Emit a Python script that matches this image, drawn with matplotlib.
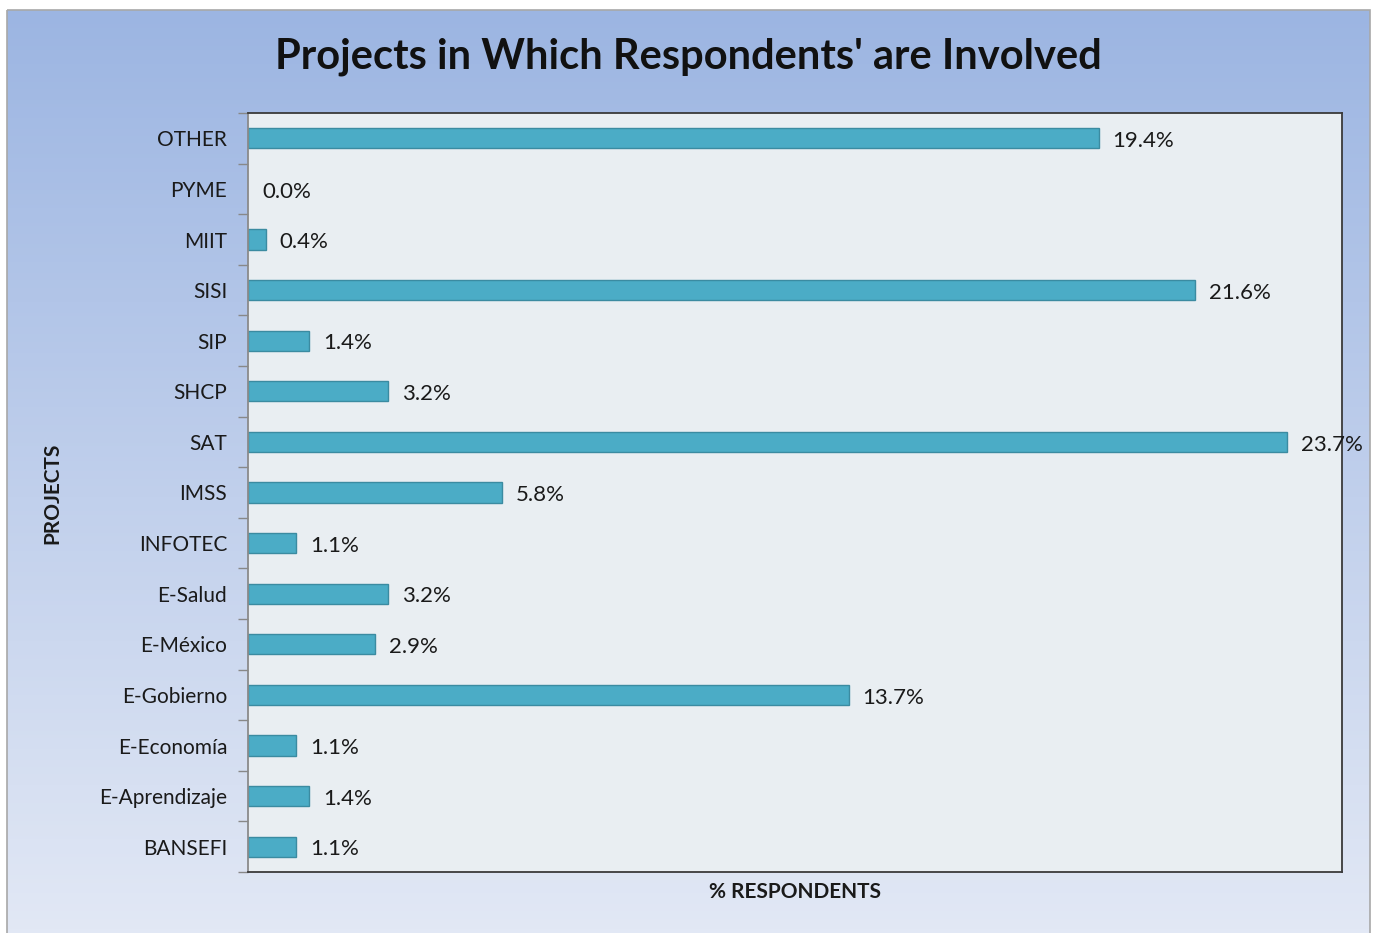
import matplotlib
matplotlib.use("Agg")
import matplotlib.pyplot as plt
import numpy as np
from matplotlib.patches import Rectangle

categories = ["BANSEFI", "E-Aprendizaje", "E-Economía", "E-Gobierno", "E-México",
              "E-Salud", "INFOTEC", "IMSS", "SAT", "SHCP", "SIP", "SISI", "MIIT",
              "PYME", "OTHER"]
values = [1.1, 1.4, 1.1, 13.7, 2.9, 3.2, 1.1, 5.8, 23.7, 3.2, 1.4, 21.6, 0.4, 0.0, 19.4]
labels = [f"{v:.1f}%" for v in values]
title = "Projects in Which Respondents' are Involved"

plt.rcParams['font.family'] = ['Lato', 'DejaVu Sans']

W, H = 1374, 933
fig = plt.figure(figsize=(W / 100, H / 100), dpi=100)

# background gradient
bg = fig.add_axes([0, 0, 1, 1], zorder=0)
bg.set_xlim(0, W)
bg.set_ylim(H, 0)
bg.axis("off")
top = np.array([0x9c, 0xb5, 0xe2]) / 255
bot = np.array([0xe2, 0xe8, 0xf5]) / 255
t = np.linspace(0, 1, 256)[:, None]
grad = top[None, :] * (1 - t) + bot[None, :] * t
grad = np.repeat(grad[:, None, :], 2, axis=1)
bg.imshow(grad, extent=[7, 1370, H, 10], aspect="auto", zorder=0)
bg.add_patch(Rectangle((7, 10), 1363, H, fill=False, edgecolor="#a8a8a8", lw=1.2, zorder=1))

ax = fig.add_axes([248 / W, 1 - 872 / H, (1342 - 248) / W, (872 - 113) / H], zorder=1)
ax.set_facecolor("#e9eef2")
y = np.arange(len(categories))
edges = ["none" if v == 0 else "#3b8ba1" for v in values]
ax.barh(y, values, height=0.4, color="#4bacc6", edgecolor=edges, linewidth=1)
ax.set_xlim(0, 24.95)
ax.set_ylim(-0.5, len(categories) - 0.5)
ax.set_yticks(y)
ax.set_yticklabels(categories, fontsize=15, color="#1a1a1a")
ax.tick_params(axis="y", which="major", length=0, pad=15)
ax.set_yticks(np.arange(-0.5, len(categories), 1), minor=True)
ax.tick_params(axis="y", which="minor", length=7, color="#888888", width=1)
ax.set_xticks([])
for s in ax.spines.values():
    s.set_color("#3a3a3a")
    s.set_linewidth(1.3)
ax.spines["left"].set_color("#8a8a8a")

for yi, v, lab in zip(y, values, labels):
    ax.annotate(lab, (v, yi), xytext=(10, -2), textcoords="offset points",
                va="center", ha="left", fontsize=16, color="#1a1a1a", clip_on=False)

fig.text(688 / W, 1 - 57 / H, title, ha="center", va="center", fontsize=30,
         fontweight="bold", color="#111111")
fig.text(795 / W, 1 - 892 / H, "% RESPONDENTS", ha="center", va="center",
         fontsize=15, fontweight="bold", color="#1a1a1a")
fig.text(52 / W, 1 - 493 / H, "PROJECTS", ha="center", va="center", rotation=90,
         fontsize=15, fontweight="bold", color="#1a1a1a")

fig.savefig("out.png", dpi=100)
